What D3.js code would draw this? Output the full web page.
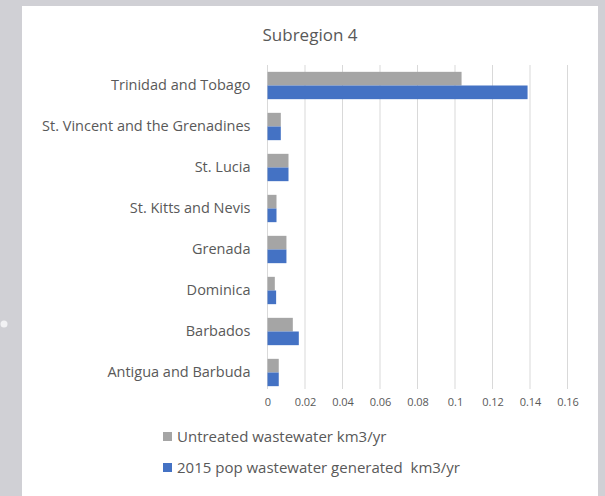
<!DOCTYPE html>
<html>
<head>
<meta charset="utf-8">
<script src="https://cdn.jsdelivr.net/npm/d3@7"></script>
<style>
  body { margin: 0; background: #d0d0d5; }
  svg { display: block; }
</style>
</head>
<body>
<svg id="chart" width="605" height="496"></svg>
<script>
// Data
var countries = ["Trinidad and Tobago", "St. Vincent and the Grenadines", "St. Lucia",
  "St. Kitts and Nevis", "Grenada", "Dominica", "Barbados", "Antigua and Barbuda"];
var untreated = [0.1035, 0.0071, 0.0112, 0.0048, 0.0101, 0.0039, 0.0135, 0.006];
var generated = [0.1387, 0.0071, 0.0112, 0.0048, 0.0101, 0.0046, 0.0167, 0.006];
var xTicks = [0, 0.02, 0.04, 0.06, 0.08, 0.1, 0.12, 0.14, 0.16];
var seriesNames = ["Untreated wastewater km3/yr", "2015 pop wastewater generated  km3/yr"];
var seriesColors = ["#a5a5a5", "#4472c4"];

var font = "'Open Sans', sans-serif";
var textColor = "#595959";

var svg = d3.select("#chart");

// white chart panel
svg.append("rect")
  .attr("x", 22).attr("y", 6)
  .attr("width", 576).attr("height", 500)
  .attr("fill", "#fff");

// small highlight dot at the left edge
svg.append("circle")
  .attr("cx", 4).attr("cy", 324).attr("r", 3.5)
  .attr("fill", "#f2f2f4");

svg.append("text")
  .attr("x", 310).attr("y", 41)
  .attr("text-anchor", "middle")
  .attr("font-family", font).attr("font-size", 17)
  .attr("fill", textColor)
  .text("Subregion 4");

var x = d3.scaleLinear().domain([0, 0.16]).range([267.5, 567.5]);
var y = d3.scaleBand().domain(countries).range([65, 393]).paddingInner(0).paddingOuter(0);
var inner = d3.scaleBand().domain([0, 1]).range([0, y.bandwidth()]).paddingInner(0).paddingOuter(0.5);

// gridlines
svg.append("g")
  .selectAll("line")
  .data(xTicks)
  .join("line")
  .attr("x1", d => x(d)).attr("x2", d => x(d))
  .attr("y1", 65).attr("y2", 389)
  .attr("stroke", "#d9d9d9").attr("stroke-width", 1);

// tick labels
var xAxis = svg.append("g")
  .attr("transform", "translate(0,389)")
  .call(d3.axisBottom(x).tickValues(xTicks).tickSize(0).tickPadding(9).tickFormat(d => String(d)));
xAxis.select(".domain").remove();
xAxis.selectAll("text")
  .attr("font-family", font).attr("font-size", 11).attr("fill", textColor);

// category labels
var yAxis = svg.append("g")
  .attr("transform", "translate(267.5,0)")
  .call(d3.axisLeft(y).tickSize(0).tickPadding(17));
yAxis.select(".domain").remove();
yAxis.selectAll("text")
  .attr("font-family", font).attr("font-size", 14.5).attr("fill", textColor);

// bars
[untreated, generated].forEach(function (vals, s) {
  svg.append("g")
    .selectAll("rect")
    .data(vals)
    .join("rect")
    .attr("x", x(0))
    .attr("y", (d, i) => y(countries[i]) + inner(s))
    .attr("width", d => x(d) - x(0))
    .attr("height", inner.bandwidth())
    .attr("fill", seriesColors[s]);
});

// legend
var legend = svg.append("g")
  .selectAll("g")
  .data(seriesNames)
  .join("g")
  .attr("transform", (d, i) => "translate(163," + (442 + i * 31) + ")");
legend.append("rect")
  .attr("x", 0).attr("y", -10)
  .attr("width", 9).attr("height", 9)
  .attr("fill", (d, i) => seriesColors[i]);
legend.append("text")
  .attr("x", 14).attr("y", 0)
  .attr("font-family", font).attr("font-size", 15)
  .attr("fill", textColor)
  .style("white-space", "pre")
  .text(d => d);
</script>
</body>
</html>
